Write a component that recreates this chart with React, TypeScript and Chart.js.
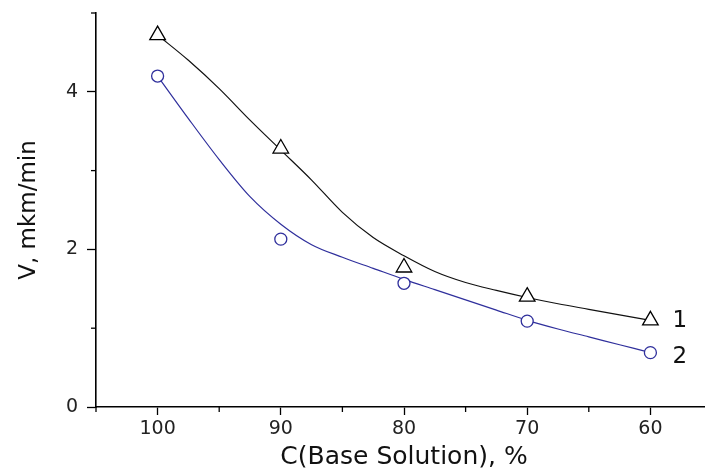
import React, { useEffect, useRef } from "react";
import { Chart, registerables } from "chart.js";

Chart.register(...registerables);

// Measured points
const concentration = [100, 90, 80, 70, 60];
const series1 = [4.72, 3.28, 1.77, 1.4, 1.1];
const series2 = [4.2, 2.13, 1.57, 1.09, 0.69];

// Fitted curves
const curveX = [100, 97.5, 95, 92.5, 90, 87.5, 85, 82.5, 80, 77.5, 75, 72.5, 70, 67.5, 65, 62.5, 60];
const curve1 = [4.72, 4.4, 4.04, 3.64, 3.26, 2.88, 2.47, 2.15, 1.92, 1.72, 1.58, 1.48, 1.39, 1.31, 1.24, 1.17, 1.1];
const curve2 = [4.2, 3.66, 3.14, 2.67, 2.32, 2.06, 1.9, 1.76, 1.62, 1.49, 1.36, 1.23, 1.1, 0.99, 0.89, 0.79, 0.69];

// Ticks
const xMajor = [100, 90, 80, 70, 60];
const xMinor = [105, 95, 85, 75, 65];
const yMajor = [0, 2, 4];
const yMinor = [1, 3, 5];
const seriesLabels = ["1", "2"];

const BLUE = "#2f2f9c";
const FONT = "'DejaVu Sans', sans-serif";

export default function App() {
  const ref = useRef<HTMLCanvasElement>(null);

  useEffect(() => {
    document.body.style.margin = "0";
    const canvas = ref.current!;
    const minorPlugin = {
      id: "minorTicksAndLabels",
      afterDraw(chart: any) {
        const { ctx, chartArea } = chart;
        const x = chart.scales.x;
        const y = chart.scales.y;
        ctx.save();
        ctx.strokeStyle = "#000";
        ctx.lineWidth = 1.3;
        xMinor.forEach((v) => {
          const px = x.getPixelForValue(v);
          ctx.beginPath();
          ctx.moveTo(px, chartArea.bottom);
          ctx.lineTo(px, chartArea.bottom + 5);
          ctx.stroke();
        });
        yMinor.forEach((v) => {
          const py = y.getPixelForValue(v);
          ctx.beginPath();
          ctx.moveTo(chartArea.left - 5, py);
          ctx.lineTo(chartArea.left, py);
          ctx.stroke();
        });
        ctx.fillStyle = "#111";
        ctx.font = `23px ${FONT}`;
        ctx.textAlign = "left";
        ctx.textBaseline = "middle";
        [0, 1].forEach((i) => {
          const meta = chart.getDatasetMeta(i);
          const pt = meta.data[meta.data.length - 1];
          ctx.fillText(seriesLabels[i], pt.x + 22, pt.y + (i === 0 ? 1 : 4));
        });
        ctx.restore();
      },
    };

    const chart = new Chart(canvas, {
      type: "scatter",
      data: {
        datasets: [
          {
            label: "1",
            data: concentration.map((c, i) => ({ x: c, y: series1[i] })),
            pointStyle: "triangle",
            pointRadius: 9,
            pointBorderWidth: 1.3,
            pointBorderColor: "#000",
            pointBackgroundColor: "#fff",
            showLine: false,
            order: 0,
          },
          {
            label: "2",
            data: concentration.map((c, i) => ({ x: c, y: series2[i] })),
            pointStyle: "circle",
            pointRadius: 6,
            pointBorderWidth: 1.3,
            pointBorderColor: BLUE,
            pointBackgroundColor: "#fff",
            showLine: false,
            order: 0,
          },
          {
            label: "curve1",
            data: curveX.map((c, i) => ({ x: c, y: curve1[i] })),
            showLine: true,
            pointRadius: 0,
            borderColor: "#111",
            borderWidth: 1.2,
            cubicInterpolationMode: "monotone",
            order: 1,
          },
          {
            label: "curve2",
            data: curveX.map((c, i) => ({ x: c, y: curve2[i] })),
            showLine: true,
            pointRadius: 0,
            borderColor: BLUE,
            borderWidth: 1.2,
            cubicInterpolationMode: "monotone",
            order: 1,
          },
        ],
      },
      options: {
        animation: false,
        responsive: false,
        layout: { autoPadding: false, padding: { top: 13, left: 0, right: 0, bottom: 0 } },
        plugins: { legend: { display: false }, tooltip: { enabled: false } },
        scales: {
          x: {
            type: "linear",
            reverse: true,
            min: 55,
            max: 105,
            afterBuildTicks: (s: any) => {
              s.ticks = xMajor.map((v) => ({ value: v }));
            },
            afterFit: (s: any) => {
              s.height = 68;
              s.paddingLeft = 0;
              s.paddingRight = 0;
            },
            grid: {
              drawOnChartArea: false,
              drawTicks: true,
              tickLength: 8,
              tickColor: "#000",
              tickWidth: 1.3,
            },
            border: { display: true, color: "#000", width: 1.6 },
            ticks: {
              color: "#222",
              font: { family: FONT, size: 19 },
              padding: 3,
              maxRotation: 0,
              autoSkip: false,
              callback: (v: any) => String(v),
            },
            title: {
              display: true,
              text: "C(Base Solution), %",
              color: "#111",
              font: { family: FONT, size: 25 },
              padding: { top: 0, bottom: 3 },
            },
          },
          y: {
            type: "linear",
            min: 0,
            max: 5,
            afterBuildTicks: (s: any) => {
              s.ticks = yMajor.map((v) => ({ value: v }));
            },
            afterFit: (s: any) => {
              s.width = 96;
              s.paddingTop = 0;
              s.paddingBottom = 0;
            },
            grid: {
              drawOnChartArea: false,
              drawTicks: true,
              tickLength: 9,
              tickColor: "#000",
              tickWidth: 1.3,
            },
            border: { display: true, color: "#000", width: 1.6 },
            ticks: {
              color: "#222",
              font: { family: FONT, size: 19 },
              padding: 9,
              autoSkip: false,
              callback: (v: any) => String(v),
            },
            title: {
              display: true,
              text: "V, mkm/min",
              color: "#111",
              font: { family: FONT, size: 23 },
              padding: { top: 15, bottom: 0 },
            },
          },
        },
      },
      plugins: [minorPlugin],
    } as any);

    return () => chart.destroy();
  }, []);

  return (
    <div style={{ width: 705, height: 475, overflow: "hidden", background: "#fff" }}>
      <canvas ref={ref} width={712} height={475} style={{ display: "block" }} />
    </div>
  );
}
